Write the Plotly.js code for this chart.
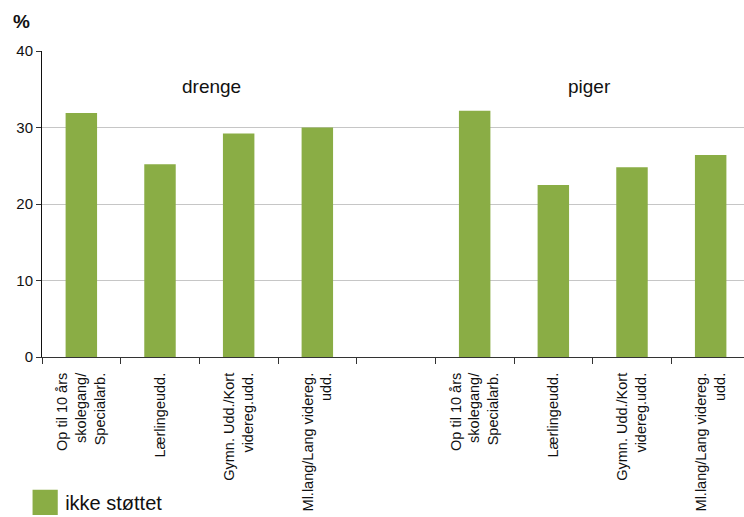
<!DOCTYPE html>
<html>
<head>
<meta charset="utf-8">
<script src="https://cdn.plot.ly/plotly-3.0.1.min.js"></script>
<style>html,body{margin:0;padding:0;background:#fff;}#chart{width:744px;height:517px;}</style>
</head>
<body>
<div id="chart"></div>
<script>
// Categories (second group gets an invisible zero-width space so labels stay unique)
const categories = [
  "Op til 10 års<br>skolegang/<br>Specialarb.",
  "Lærlingeudd.",
  "Gymn. Udd./Kort<br>videreg.udd.",
  "Ml.lang/Lang videreg.<br>udd.",
  " ",
  "Op til 10 års<br>skolegang/<br>Specialarb.\u200b",
  "Lærlingeudd.\u200b",
  "Gymn. Udd./Kort<br>videreg.udd.\u200b",
  "Ml.lang/Lang videreg.<br>udd.\u200b"
];
const values = [31.9, 25.2, 29.2, 30.0, null, 32.2, 22.5, 24.8, 26.4];
const seriesName = "ikke støttet";
const groupLabels = ["drenge", "piger"];
const groupLabelX = [1.66, 6.46];
const groupLabelY = 35.3;
const yTicks = [0, 10, 20, 30, 40];

const green = "#8aad45";
const font = "Liberation Sans, Arial, sans-serif";

const trace = {
  type: "bar",
  x: categories,
  y: values,
  name: seriesName,
  width: 0.4,
  marker: {color: green, line: {width: 0}},
  showlegend: true,
  hoverinfo: "skip"
};

const annotations = groupLabels.map((t, i) => ({
  text: t, x: groupLabelX[i], y: groupLabelY,
  xref: "x", yref: "y", showarrow: false,
  font: {family: font, size: 19, color: "#111"},
  xanchor: "center", yanchor: "middle"
}));
annotations.push({
  text: "<b>%</b>", xref: "paper", yref: "paper",
  x: -0.044, y: 1.095, xanchor: "left", yanchor: "middle",
  showarrow: false, font: {family: font, size: 19, color: "#111"}
});

const layout = {
  width: 744, height: 517,
  margin: {l: 42, r: 0, t: 51, b: 160, autoexpand: false},
  paper_bgcolor: "#fff", plot_bgcolor: "#fff",
  font: {family: font, color: "#111"},
  xaxis: {
    type: "category",
    range: [-0.5, 8.5 - 6 / 78.7],
    tickson: "boundaries",
    ticks: "outside", ticklen: 6, tickwidth: 1, tickcolor: "#333",
    tickangle: -90,
    ticklabelstandoff: 9,
    tickfont: {family: font, size: 14.5, color: "#111"},
    showline: true, linecolor: "#333", linewidth: 1,
    showgrid: false, zeroline: false, fixedrange: true
  },
  yaxis: {
    range: [0, 40],
    tickvals: yTicks,
    ticks: "outside", ticklen: 5, tickwidth: 1, tickcolor: "#333",
    tickfont: {family: font, size: 15, color: "#111"},
    showline: true, linecolor: "#111", linewidth: 1,
    showgrid: true, gridcolor: "#c6c6c6", gridwidth: 1,
    zeroline: false, fixedrange: true
  },
  legend: {
    x: -0.024, y: -0.475, xanchor: "left", yanchor: "middle",
    orientation: "v",
    font: {family: font, size: 20, color: "#111"},
    bgcolor: "rgba(0,0,0,0)"
  },
  annotations: annotations
};

Plotly.newPlot("chart", [trace], layout, {staticPlot: true, displayModeBar: false}).then(function () {
  // enlarge the legend swatch to match the reference's big square
  document.querySelectorAll("#chart .legend .legendpoints path").forEach(function (p) {
    var t = p.getAttribute("transform") || "";
    p.setAttribute("transform", t + " scale(2.1)");
  });
});
</script>
</body>
</html>
